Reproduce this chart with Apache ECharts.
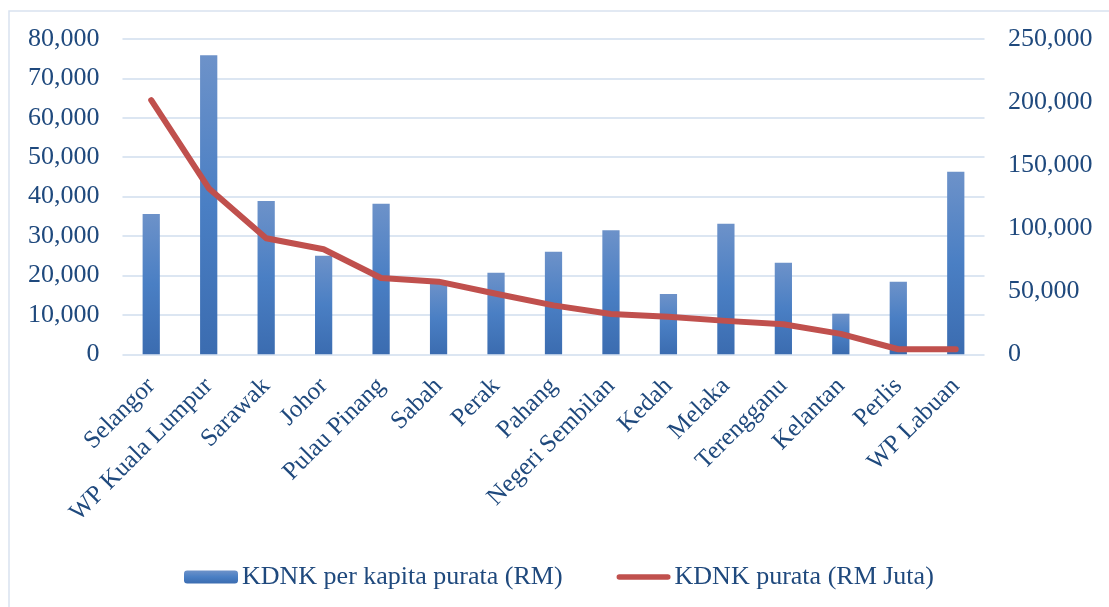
<!DOCTYPE html>
<html>
<head>
<meta charset="utf-8">
<script src="https://cdn.jsdelivr.net/npm/echarts@6/dist/echarts.min.js"></script>
<style>html,body{margin:0;padding:0;background:#fff;}#c{width:1109px;height:607px;}</style>
</head>
<body>
<div id="c"></div>
<script>
const categories = ['Selangor','WP Kuala Lumpur','Sarawak','Johor','Pulau Pinang','Sabah','Perak','Pahang','Negeri Sembilan','Kedah','Melaka','Terengganu','Kelantan','Perlis','WP Labuan'];
const perCapita = [35600, 75900, 38900, 25000, 38200, 18200, 20700, 26000, 31500, 15300, 33100, 23200, 10300, 18400, 46300];
const gdpTotal = [201500, 131700, 92000, 83300, 60500, 57600, 48000, 38800, 32000, 29800, 26500, 23800, 16200, 4000, 4000];
const leftTicks = {min: 0, max: 80000, interval: 10000};
const rightTicks = {min: 0, max: 250000, interval: 50000};

const txt = '#1F497D';
const font = 'Liberation Serif';
const fmt = v => v.toLocaleString('en-US');
const chart = echarts.init(document.getElementById('c'));
chart.setOption({
  animation: false,
  textStyle: {fontFamily: font, color: txt},
  graphic: [{type: 'rect', shape: {x: 9, y: 11, width: 1300, height: 800}, style: {fill: 'none', stroke: '#D9E2F0', lineWidth: 1.5}, silent: true}],
  grid: {left: 122.5, right: 124.5, top: 39, bottom: 252.7},
  legend: {
    left: 179, top: 559,
    itemWidth: 54, itemHeight: 13, itemGap: 54,
    textStyle: {fontFamily: font, fontSize: 26, color: txt, padding: [0, 0, 0, -1]},
    data: [
      {name: 'KDNK per kapita purata (RM)'},
      {name: 'KDNK purata (RM Juta)', icon: 'path://M3,0 H55 A3,3 0 0 1 55,6 H3 A3,3 0 0 1 3,0 Z', itemStyle: {color: '#C0504D'}}
    ]
  },
  xAxis: {
    type: 'category', data: categories,
    axisLine: {show: false}, axisTick: {show: false},
    axisLabel: {rotate: 45, fontFamily: font, fontSize: 25, color: txt, margin: 28, interval: 0}
  },
  yAxis: [
    {type: 'value', min: leftTicks.min, max: leftTicks.max, interval: leftTicks.interval,
     axisLabel: {fontFamily: font, fontSize: 26, color: txt, margin: 23, formatter: fmt},
     splitLine: {lineStyle: {color: '#DCE6F2', width: 2}}, axisLine: {show: false}, axisTick: {show: false}},
    {type: 'value', min: rightTicks.min, max: rightTicks.max, interval: rightTicks.interval, position: 'right',
     axisLabel: {fontFamily: font, fontSize: 26, color: txt, margin: 23.5, formatter: fmt},
     splitLine: {show: false}, axisLine: {show: false}, axisTick: {show: false}}
  ],
  series: [
    {name: 'KDNK per kapita purata (RM)', type: 'bar', yAxisIndex: 0, data: perCapita, barWidth: '30%',
     itemStyle: {color: new echarts.graphic.LinearGradient(0, 0, 0, 1, [
       {offset: 0, color: '#6D92C9'}, {offset: 0.5, color: '#4A7FC4'}, {offset: 1, color: '#3B6CB0'}])}},
    {name: 'KDNK purata (RM Juta)', type: 'line', yAxisIndex: 1, data: gdpTotal, symbol: 'none',
     lineStyle: {color: '#C0504D', width: 6, cap: 'round', join: 'round'}, itemStyle: {color: '#C0504D'}}
  ]
});
</script>
</body>
</html>
